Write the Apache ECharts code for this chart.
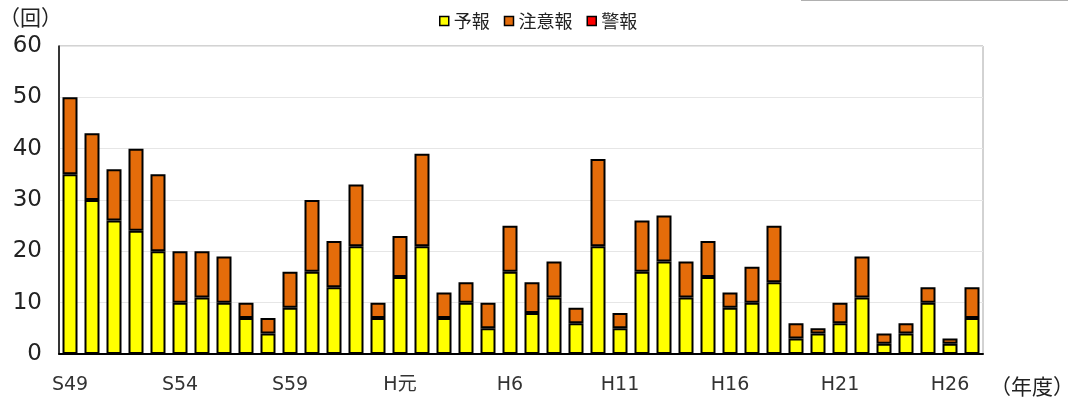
<!DOCTYPE html>
<html lang="ja">
<head>
<meta charset="UTF-8">
<title>予報・注意報・警報 発令回数</title>
<script src="https://cdn.jsdelivr.net/npm/echarts@6/dist/echarts.min.js"></script>
<style>
  html, body { margin: 0; padding: 0; background: #fff; }
  #chart { width: 1070px; height: 403px; }
</style>
</head>
<body>
<div id="chart"></div>
<script>
var years = ['S49', 'S50', 'S51', 'S52', 'S53', 'S54', 'S55', 'S56', 'S57', 'S58',
    'S59', 'S60', 'S61', 'S62', 'S63', 'H元', 'H2', 'H3', 'H4', 'H5',
    'H6', 'H7', 'H8', 'H9', 'H10', 'H11', 'H12', 'H13', 'H14', 'H15',
    'H16', 'H17', 'H18', 'H19', 'H20', 'H21', 'H22', 'H23', 'H24', 'H25',
    'H26', 'H27'];

// 予報
var yohou = [35, 30, 26, 24, 20, 10, 11, 10, 7, 4,
    9, 16, 13, 21, 7, 15, 21, 7, 10, 5,
    16, 8, 11, 6, 21, 5, 16, 18, 11, 15,
    9, 10, 14, 3, 4, 6, 11, 2, 4, 10,
    2, 7];

// 注意報
var chuuihou = [15, 13, 10, 16, 15, 10, 9, 9, 3, 3,
    7, 14, 9, 12, 3, 8, 18, 5, 4, 5,
    9, 6, 7, 3, 17, 3, 10, 9, 7, 7,
    3, 7, 11, 3, 1, 4, 8, 2, 2, 3,
    1, 6];

// 警報
var keihou = [0, 0, 0, 0, 0, 0, 0, 0, 0, 0,
    0, 0, 0, 0, 0, 0, 0, 0, 0, 0,
    0, 0, 0, 0, 0, 0, 0, 0, 0, 0,
    0, 0, 0, 0, 0, 0, 0, 0, 0, 0,
    0, 0];

var font = 'DejaVu Sans, Noto Sans CJK JP, sans-serif';
var cjk = 'Noto Sans CJK JP, sans-serif';

var myChart = echarts.init(document.getElementById('chart'));

var option = {
    animation: false,
    legend: {
        left: 434,
        top: 7,
        icon: 'rect',
        itemWidth: 9,
        itemHeight: 9,
        itemGap: 14,
        textStyle: { fontFamily: cjk, fontSize: 18, color: '#222' },
        data: [
            { name: '予報', itemStyle: { color: '#ffff00', borderColor: '#000', borderWidth: 1.5 } },
            { name: '注意報', itemStyle: { color: '#e46c0a', borderColor: '#000', borderWidth: 1.5 } },
            { name: '警報', itemStyle: { color: '#ff0000', borderColor: '#000', borderWidth: 1.5 } }
        ]
    },
    grid: {
        left: 59,
        right: 87,
        top: 46,
        bottom: 49,
        show: true,
        borderColor: '#a6a6a6',
        borderWidth: 1
    },
    xAxis: {
        type: 'category',
        data: years,
        axisLine: { lineStyle: { color: '#000', width: 2 } },
        axisTick: { show: false },
        axisLabel: {
            interval: 4,
            margin: 22,
            fontFamily: font,
            fontSize: 19,
            color: '#333'
        }
    },
    yAxis: {
        type: 'value',
        min: 0,
        max: 60,
        interval: 10,
        axisLine: { show: true, lineStyle: { color: '#000', width: 1.5 } },
        axisTick: { show: false },
        splitLine: { lineStyle: { color: '#e6e6e6', width: 1 } },
        axisLabel: {
            margin: 17,
            fontFamily: font,
            fontSize: 23,
            color: '#222'
        }
    },
    graphic: [
        {
            type: 'text', left: -1, top: 7,
            style: { text: '（回）', font: '21px ' + cjk, fill: '#222' }
        },
        {
            type: 'text', left: 990, top: 376,
            style: { text: '（年度）', font: '21px ' + cjk, fill: '#222' }
        },
        {
            type: 'line',
            shape: { x1: 801, y1: 0.5, x2: 1068, y2: 0.5 },
            style: { stroke: '#b0b0b0', lineWidth: 1 }
        }
    ],
    series: [
        {
            name: '予報',
            type: 'bar',
            stack: 'total',
            barWidth: 15,
            data: yohou,
            itemStyle: { color: '#ffff00', borderColor: '#000', borderWidth: 2 }
        },
        {
            name: '注意報',
            type: 'bar',
            stack: 'total',
            barWidth: 15,
            data: chuuihou,
            itemStyle: { color: '#e46c0a', borderColor: '#000', borderWidth: 2 }
        },
        {
            name: '警報',
            type: 'bar',
            stack: 'total',
            barWidth: 15,
            data: keihou,
            itemStyle: { color: '#ff0000', borderColor: '#000', borderWidth: 0 }
        }
    ]
};

myChart.setOption(option);
</script>
</body>
</html>
